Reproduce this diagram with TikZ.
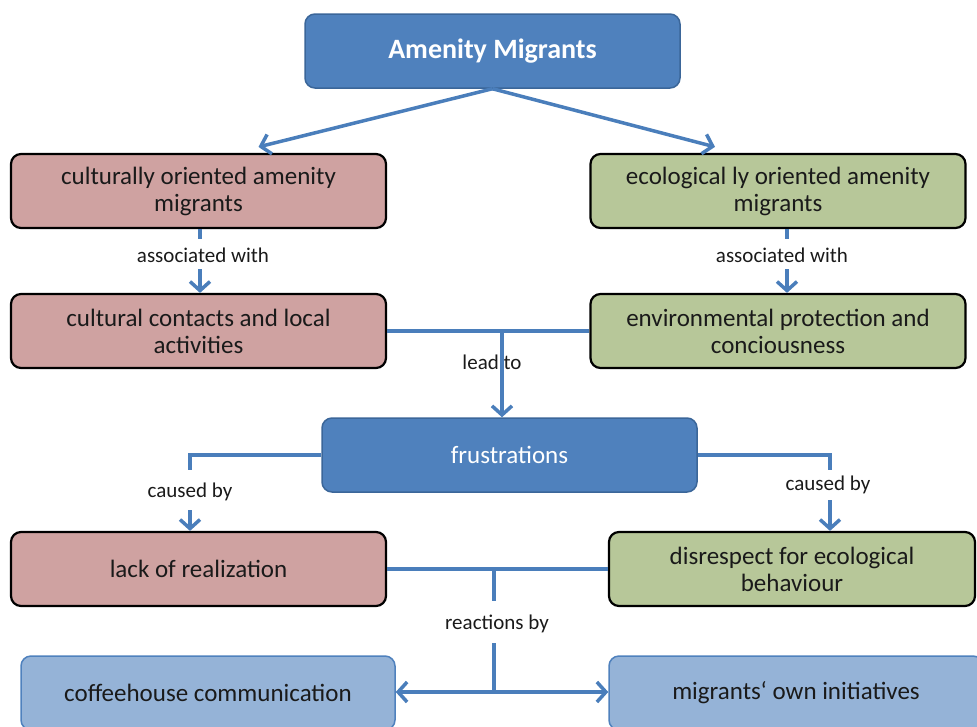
\documentclass[tikz,border=0pt]{standalone}
\usepackage{fontspec}
\setmainfont{Carlito}
\usetikzlibrary{arrows.meta}
\definecolor{dblue}{HTML}{4F81BD}
\definecolor{dblueb}{HTML}{3B6699}
\definecolor{pinkf}{HTML}{CFA2A1}
\definecolor{greenf}{HTML}{B7C799}
\definecolor{lblue}{HTML}{95B3D7}
\definecolor{connc}{HTML}{4A7EBB}
\definecolor{txt}{HTML}{1A1A1A}
\tikzset{
  box/.style={rounded corners=10pt, minimum width=375pt, minimum height=74pt, align=center,
    font=\fontsize{25}{27}\selectfont, text=txt, inner sep=0pt},
  bluebox/.style={box, fill=dblue, draw=dblueb, line width=1.5pt, text=white},
  pinkbox/.style={box, fill=pinkf, draw=black, line width=2.2pt},
  greenbox/.style={box, fill=greenf, draw=black, line width=2.2pt},
  lbox/.style={box, fill=lblue, draw=dblue, line width=1.5pt},
  lbl/.style={font=\fontsize{21}{24}\selectfont, text=txt, inner sep=2pt},
  conn/.style={draw=connc, line width=3.5pt},
  arr/.style={conn, -{Straight Barb[length=9pt,width=20pt]}},
}
\begin{document}
\begin{tikzpicture}[x=1pt,y=-1pt]
\useasboundingbox (0,0) rectangle (977,726);
\clip (0,0) rectangle (977,726);
\node[bluebox, font=\fontsize{28}{30}\selectfont\bfseries] (am) at (492.5,51) {Amenity Migrants};
\node[pinkbox] (co) at (198.5,191) {culturally oriented amenity\\migrants};
\node[greenbox] (eo) at (778,191) {ecological ly oriented amenity\\migrants};
\node[pinkbox] (cc) at (198.5,331) {cultural contacts and local\\activities};
\node[greenbox] (ep) at (778,331) {environmental protection and\\conciousness};
\node[bluebox] (fr) at (509.5,455) {frustrations};
\node[pinkbox] (lr) at (198.5,569) {lack of realization};
\node[greenbox, minimum width=366pt] (dr) at (792,569) {disrespect for ecological\\behaviour};
\node[lbox, minimum width=374pt] (ch) at (208,693) {coffeehouse communication};
\node[lbox, minimum width=374pt] (mi) at (796,693) {migrants‘ own initiatives};

% top arrows
\draw[arr] (am.south) -- ([xshift=60pt,yshift=6pt]co.north);
\draw[arr] (am.south) -- ([xshift=-63pt,yshift=6pt]eo.north);

% associated with
\node[lbl] (aw1) at (203,255) {associated with};
\node[lbl] (aw2) at (782,255) {associated with};
\draw[conn] ([xshift=1.5pt]co.south) -- ++(0,10);
\draw[arr] ([xshift=1.5pt]co.south) ++(0,40) -- ([xshift=1.5pt]cc.north);
\draw[conn] ([xshift=9pt]eo.south) -- ++(0,10);
\draw[arr] ([xshift=9pt]eo.south) ++(0,40) -- ([xshift=9pt]ep.north);

% lead to
\node[lbl] (lt) at (492,362) {lead to};
\draw[conn] (cc.east) -- (ep.west);
\coordinate (j1) at (502,331);
\draw[arr] (j1) -- (j1 |- fr.north);

% caused by
\node[lbl] (cb1) at (190,492) {caused by};
\node[lbl] (cb2) at (828,485) {caused by};
\coordinate (s1) at (190,470);
\coordinate (s2) at (830,470);
\coordinate (a1) at (190,510);
\coordinate (a2) at (830,500);
\draw[conn] (fr.west) -| (s1);
\draw[arr] (a1) -- (a1 |- lr.north);
\draw[conn] (fr.east) -| (s2);
\draw[arr] (a2) -- (a2 |- dr.north);

% reactions by
\draw[conn] (lr.east) -- (dr.west);
\coordinate (j3) at (494,569);
\draw[conn] (j3) -- ++(0,32);
\node[lbl] (rb) at (497,624) {reactions by};
\coordinate (j4) at (494,692);
\coordinate (j5) at (494,643);
\draw[conn] (j5) -- (j4);
\draw[arr] (j4) -- (ch.east |- j4);
\draw[arr] (j4) -- (mi.west |- j4);
\end{tikzpicture}
\end{document}
